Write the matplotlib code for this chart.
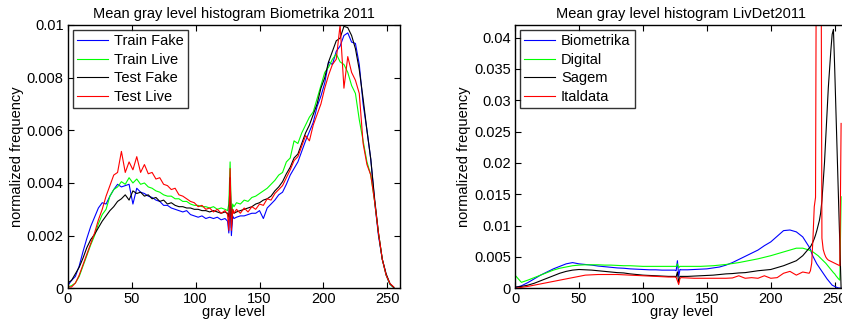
import numpy as np
import matplotlib
matplotlib.use("Agg")
import matplotlib.pyplot as plt

plt.rcParams['font.family'] = ['Liberation Sans', 'DejaVu Sans']
plt.rcParams['font.size'] = 10.5

# ---- left panel: Biometrika 2011 (values in units of 1e-3) ----
gray_left = [0, 3, 6, 9, 12, 15, 18, 21, 24, 27, 30, 33, 36, 39, 42, 45, 48, 51, 54, 57,
             60, 63, 66, 69, 72, 75, 78, 81, 84, 87, 90, 93, 96, 99, 102, 105, 108, 111, 114, 117,
             120, 123, 125, 126, 127, 128, 129, 130,
             132, 135, 138, 141, 144, 147, 150, 153, 156, 159, 162, 165, 168, 171, 174, 177, 180, 183, 186, 189,
             192, 195, 198, 201, 204, 207, 210, 213, 216, 219, 222, 225, 228, 231, 234, 237, 240, 243, 246, 249,
             252, 255]

train_fake = [0.10, 0.30, 0.45, 0.85, 1.40, 1.90, 2.35, 2.70, 3.05, 3.25, 3.20, 3.50, 3.75, 3.95, 3.85, 3.90, 3.95, 3.20, 3.80, 3.65,
              3.60, 3.50, 3.45, 3.35, 3.30, 3.15, 3.15, 3.05, 3.00, 2.95, 2.90, 2.95, 2.80, 2.75, 2.70, 2.75, 2.65, 2.70, 2.65, 2.70,
              2.60, 2.65, 2.55, 2.10, 3.30, 2.00, 2.75, 2.65,
              2.70, 2.75, 2.75, 2.80, 2.85, 2.85, 2.95, 2.65, 3.05, 3.20, 3.35, 3.55, 3.65, 3.95, 4.30, 4.55, 4.80, 5.20, 5.60, 5.95,
              6.30, 6.90, 7.30, 7.80, 8.60, 8.50, 9.00, 9.20, 9.60, 9.70, 9.35, 9.30, 8.50, 7.00, 6.00, 4.90, 3.30, 2.00, 1.10, 0.50,
              0.15, 0.03]

train_live = [0.05, 0.10, 0.20, 0.45, 0.85, 1.25, 1.65, 2.00, 2.45, 2.80, 3.00, 3.50, 3.75, 3.85, 4.05, 3.95, 4.20, 4.00, 4.15, 3.95,
              4.00, 3.85, 3.80, 3.70, 3.65, 3.55, 3.50, 3.50, 3.40, 3.40, 3.30, 3.30, 3.20, 3.15, 3.15, 3.10, 3.10, 3.05, 3.10, 3.00,
              3.05, 3.00, 2.95, 3.20, 4.80, 2.60, 3.20, 3.10,
              3.25, 3.20, 3.35, 3.30, 3.45, 3.50, 3.60, 3.70, 3.80, 3.95, 4.10, 4.30, 4.40, 4.80, 4.95, 5.60, 5.50, 5.90, 6.20, 6.50,
              6.70, 7.20, 7.70, 8.20, 8.40, 8.70, 8.90, 8.60, 8.50, 8.20, 7.70, 7.40, 6.40, 5.60, 4.80, 4.30, 3.30, 2.10, 1.10, 0.50,
              0.15, 0.03]

test_fake = [0.20, 0.30, 0.55, 0.80, 1.15, 1.55, 1.85, 2.05, 2.30, 2.55, 2.75, 2.95, 3.10, 3.30, 3.40, 3.55, 3.35, 3.70, 3.60, 3.65,
             3.50, 3.55, 3.40, 3.45, 3.30, 3.35, 3.20, 3.25, 3.15, 3.10, 3.10, 3.05, 3.05, 3.00, 3.00, 2.95, 2.95, 2.90, 2.95, 2.90,
             2.85, 2.90, 2.85, 2.70, 4.20, 2.30, 3.00, 2.85,
             2.90, 2.95, 3.00, 3.05, 3.10, 3.20, 3.25, 3.35, 3.40, 3.50, 3.70, 3.85, 4.05, 4.35, 4.60, 4.95, 5.10, 5.50, 5.90, 6.20,
             6.60, 7.00, 7.60, 8.00, 8.60, 9.00, 9.40, 9.50, 9.95, 9.90, 9.60, 9.10, 8.30, 7.20, 6.00, 4.90, 3.40, 2.10, 1.10, 0.55,
             0.18, 0.03]

test_live = [0.05, 0.05, 0.20, 0.50, 0.90, 1.30, 1.70, 2.10, 2.60, 3.00, 3.50, 3.90, 4.30, 4.40, 5.20, 4.40, 4.80, 4.50, 5.00, 4.40,
             4.70, 4.35, 4.40, 4.15, 4.20, 3.95, 3.90, 3.75, 3.80, 3.55, 3.50, 3.40, 3.30, 3.25, 3.10, 3.15, 3.00, 3.05, 2.90, 3.00,
             2.85, 2.95, 2.80, 2.20, 4.55, 2.20, 3.00, 2.85,
             3.00, 2.85, 3.05, 2.90, 3.10, 3.00, 3.20, 3.15, 3.40, 3.35, 3.60, 3.75, 3.90, 4.20, 4.50, 4.85, 5.00, 5.40, 5.80, 5.60,
             6.20, 6.60, 7.00, 7.60, 8.10, 8.50, 8.70, 10.0, 7.60, 8.80, 8.20, 7.90, 7.40, 5.50, 4.70, 4.30, 3.30, 2.10, 1.10, 0.50,
             0.18, 0.05]

# ---- right panel: LivDet2011 sensors (values in units of 1e-3) ----
gray_right = [0, 5, 10, 15, 20, 25, 30, 35, 40, 45, 50, 55, 60, 65, 70, 75, 80, 85, 90, 95,
              100, 105, 110, 115, 120, 125, 126, 127, 128, 129,
              130, 135, 140, 145, 150, 155, 160, 165, 170, 175, 180, 185, 190, 195, 200, 205, 210, 215, 220, 225,
              230, 231, 232, 233, 234, 235, 236, 237, 238, 239, 240, 241, 242, 243, 244, 245, 246, 247, 248, 249,
              250, 251, 252, 253, 254, 255]

biometrika = [0.1, 0.4, 0.9, 1.5, 2.1, 2.6, 3.1, 3.5, 3.9, 4.1, 3.9, 3.8, 3.7, 3.55, 3.45, 3.35, 3.25, 3.2, 3.1, 3.05,
              3.0, 2.95, 2.95, 2.9, 2.9, 2.9, 2.8, 4.4, 1.9, 3.0,
              2.95, 2.95, 3.0, 3.05, 3.1, 3.25, 3.4, 3.7, 4.1, 4.6, 5.1, 5.6, 6.1, 6.8, 7.4, 8.3, 9.2, 9.3, 9.0, 8.2,
              6.6, 6.2, 5.6, 5.1, 4.7, 4.3, 3.9, 3.6, 3.3, 3.0, 2.7, 2.4, 2.1, 1.8, 1.5, 1.25, 1.0, 0.75, 0.5, 0.4,
              0.3, 0.2, 0.12, 0.06, 0.04, 0.02]

digital = [2.1, 0.95, 1.3, 1.7, 2.1, 2.5, 2.9, 3.2, 3.4, 3.6, 3.7, 3.75, 3.75, 3.75, 3.7, 3.7, 3.65, 3.6, 3.6, 3.55,
           3.5, 3.5, 3.5, 3.5, 3.5, 3.5, 3.5, 3.9, 3.3, 3.5,
           3.5, 3.5, 3.5, 3.5, 3.55, 3.6, 3.7, 3.8, 3.95, 4.1, 4.3, 4.5, 4.7, 4.95, 5.2, 5.5, 5.8, 6.1, 6.4, 6.4,
           6.1, 6.0, 5.9, 5.8, 5.65, 5.5, 5.35, 5.2, 5.0, 4.8, 4.6, 4.4, 4.2, 4.0, 3.75, 3.5, 3.25, 3.0, 2.75, 2.5,
           2.3, 2.0, 1.75, 1.5, 1.3, 14.6]

sagem = [0.2, 0.3, 0.5, 0.8, 1.2, 1.6, 2.0, 2.4, 2.7, 2.9, 3.0, 2.95, 2.9, 2.8, 2.7, 2.6, 2.5, 2.45, 2.3, 2.2,
         2.1, 2.05, 2.0, 1.95, 1.9, 1.9, 1.85, 2.6, 0.9, 1.9,
         1.9, 1.9, 1.95, 2.0, 2.05, 2.1, 2.2, 2.3, 2.35, 2.45, 2.5, 2.65, 2.8, 2.9, 3.0, 3.3, 3.6, 4.0, 4.4, 5.2,
         6.4, 6.6, 7.0, 7.4, 7.9, 8.5, 9.2, 10.0, 10.8, 12.0, 14.0, 17.0, 20.0, 24.0, 28.0, 32.0, 35.0, 38.0, 40.5, 41.3,
         35.0, 28.0, 21.0, 14.0, 7.0, 0.0]

italdata = [0.0, 0.15, 0.3, 0.5, 0.7, 0.9, 1.1, 1.3, 1.5, 1.7, 1.9, 2.1, 2.15, 2.2, 2.2, 2.2, 2.2, 2.15, 2.1, 2.05,
            2.0, 1.95, 1.9, 1.85, 1.8, 1.8, 1.75, 1.2, 0.6, 1.6,
            1.7, 1.65, 1.6, 1.6, 1.6, 1.6, 1.6, 1.6, 1.65, 2.0, 1.6, 1.7, 1.6, 2.0, 1.6, 1.7, 2.4, 2.7, 2.1, 2.6,
            2.4, 2.8, 4.0, 8.0, 13.0, 14.5, 80.0, 100.0, 100.0, 80.0, 8.0, 6.2, 5.5, 5.0, 4.7, 4.5, 4.4, 4.3, 4.2, 4.1,
            4.0, 3.9, 3.8, 3.7, 3.6, 26.3]

W, H = 842, 324
fig = plt.figure(figsize=(W / 100, H / 100), dpi=100)
ax1 = fig.add_axes([67.7 / W, 35.7 / H, 332.5 / W, 263.3 / H])
ax2 = fig.add_axes([515 / W, 35.7 / H, 332.5 / W, 263.3 / H])

lw = 0.8
scale = 1e-3
for y, c, lab in [(train_fake, 'b', 'Train Fake'), (train_live, '#00ff00', 'Train Live'),
                  (test_fake, 'k', 'Test Fake'), (test_live, 'r', 'Test Live')]:
    ax1.plot(gray_left, np.array(y) * scale, color=c, lw=lw, label=lab)

for y, c, lab in [(biometrika, 'b', 'Biometrika'), (digital, '#00ff00', 'Digital'),
                  (sagem, 'k', 'Sagem'), (italdata, 'r', 'Italdata')]:
    ax2.plot(gray_right, np.array(y) * scale, color=c, lw=lw, label=lab)

ax1.set_xlim(0, 260)
ax1.set_ylim(0, 0.01)
ax1.set_yticks([0, 0.002, 0.004, 0.006, 0.008, 0.01])
ax1.set_yticklabels(['0', '0.002', '0.004', '0.006', '0.008', '0.01'])
ax1.set_title('Mean gray level histogram Biometrika 2011', fontsize=10.5, pad=5)

ax2.set_xlim(0, 260)
ax2.set_ylim(0, 0.042)
ax2.set_yticks([0, 0.005, 0.01, 0.015, 0.02, 0.025, 0.03, 0.035, 0.04])
ax2.set_yticklabels(['0', '0.005', '0.01', '0.015', '0.02', '0.025', '0.03', '0.035', '0.04'])
ax2.set_title('Mean gray level histogram LivDet2011', fontsize=10.5, pad=5)

for ax in (ax1, ax2):
    ax.set_xticks([0, 50, 100, 150, 200, 250])
    ax.tick_params(direction='in', top=True, right=True, length=4, width=0.8,
                   labelsize=10.5, pad=3)
    for s in ax.spines.values():
        s.set_linewidth(1.0)
    ax.set_xlabel('gray level', fontsize=10.5, labelpad=-1)
    ax.set_ylabel('normalized frequency', fontsize=10.5, labelpad=2)
    leg = ax.legend(loc='upper left', fontsize=10.5, handlelength=2.1, labelspacing=0.3,
                    borderpad=0.3, handletextpad=0.4, borderaxespad=0.35, fancybox=False)
    leg.get_frame().set_edgecolor('black')
    leg.get_frame().set_linewidth(1.0)

fig.savefig('out.png', dpi=100)
